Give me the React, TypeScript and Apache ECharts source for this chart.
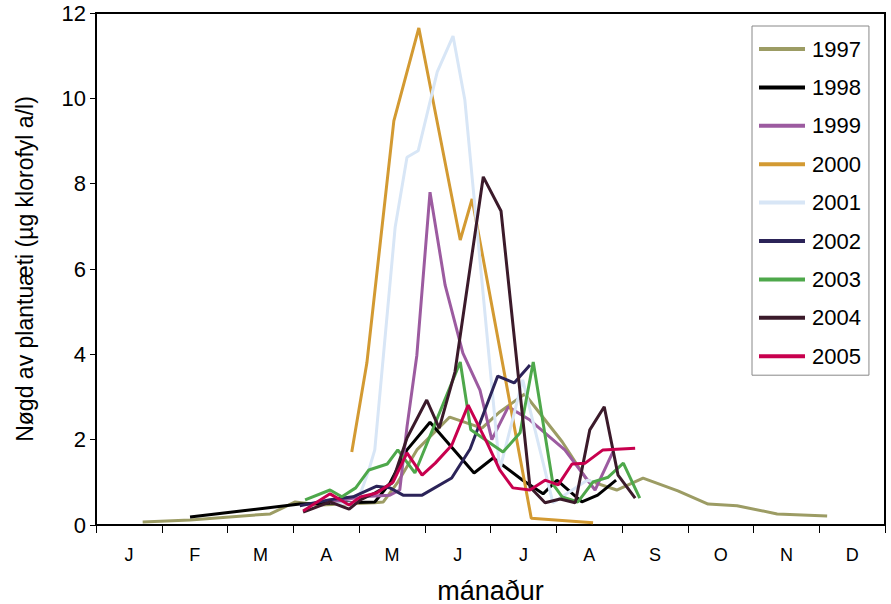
import React, { useEffect, useRef } from "react";
import * as echarts from "echarts";

const months = ["J", "F", "M", "A", "M", "J", "J", "A", "S", "O", "N", "D"];
const yTicks = [0, 2, 4, 6, 8, 10, 12];

// x = month position (0 = 1 Jan, 12 = 31 Dec), y = µg klorofyl a/l
const d1997: [number, number][] = [
  [0.71, 0.07], [1.43, 0.12], [2.65, 0.26], [3.03, 0.54], [3.41, 0.47], [4.24, 0.52], [4.37, 0.54],
  [4.58, 0.98], [4.88, 1.76], [5.38, 2.53], [5.87, 2.27], [6.14, 2.65], [6.52, 3.07], [7.09, 1.95],
  [7.47, 1.05], [7.92, 0.82], [8.32, 1.1], [8.85, 0.8], [9.31, 0.49], [9.75, 0.45], [10.36, 0.26], [11.12, 0.21],
];
const d1998: [number, number][] = [
  [1.43, 0.19], [3.1, 0.49], [4.24, 0.54], [4.47, 0.98], [4.73, 1.76], [5.08, 2.41], [5.75, 1.22],
  [6.04, 1.57], [6.49, 1.05], [6.8, 0.73], [7.01, 1.05], [7.39, 0.54], [7.63, 0.7], [7.91, 1.05],
];
const d1999: [number, number][] = [
  [3.56, 0.52], [4.02, 0.66], [4.47, 0.7], [4.62, 0.82], [4.73, 2.3], [4.88, 3.98], [5.08, 7.8],
  [5.31, 5.62], [5.58, 4.03], [5.84, 3.16], [6.02, 2.0], [6.27, 2.77], [6.6, 2.46], [7.13, 1.76],
  [7.59, 0.82], [7.86, 1.71],
];
const d2000: [number, number][] = [
  [3.89, 1.71], [4.12, 3.8], [4.53, 9.47], [4.91, 11.65], [5.54, 6.68], [5.72, 7.64], [6.62, 0.16], [7.56, 0.05],
];
const d2001: [number, number][] = [
  [3.63, 0.49], [3.97, 0.52], [4.14, 1.24], [4.24, 1.76], [4.55, 6.98], [4.73, 8.62], [4.9, 8.77],
  [5.19, 10.62], [5.43, 11.46], [5.61, 9.96], [6.14, 1.29], [6.49, 3.4], [6.95, 0.52], [7.47, 1.05], [7.59, 1.0],
];
const d2002: [number, number][] = [
  [3.1, 0.45], [3.56, 0.59], [3.91, 0.66], [4.27, 0.91], [4.47, 0.87], [4.67, 0.7], [4.96, 0.7],
  [5.41, 1.1], [5.69, 1.78], [6.11, 3.49], [6.36, 3.33], [6.6, 3.75],
];
const d2003: [number, number][] = [
  [3.18, 0.59], [3.56, 0.82], [3.74, 0.66], [3.95, 0.87], [4.15, 1.29], [4.43, 1.43], [4.59, 1.76],
  [4.85, 1.22], [5.54, 3.82], [5.7, 2.23], [6.19, 1.71], [6.45, 2.16], [6.65, 3.82], [6.95, 0.96],
  [7.09, 0.66], [7.33, 0.54], [7.56, 1.01], [7.79, 1.12], [8.02, 1.45], [8.27, 0.63],
];
const d2004: [number, number][] = [
  [3.15, 0.3], [3.56, 0.54], [3.85, 0.37], [4.02, 0.59], [4.24, 0.75], [4.5, 0.98], [4.73, 2.04],
  [5.03, 2.93], [5.22, 2.27], [5.46, 3.59], [5.89, 8.16], [6.16, 7.36], [6.6, 0.89], [6.83, 0.52],
  [7.06, 0.61], [7.29, 0.52], [7.51, 2.23], [7.73, 2.77], [7.94, 1.17], [8.2, 0.63],
];
const d2005: [number, number][] = [
  [3.15, 0.33], [3.56, 0.73], [3.85, 0.47], [4.02, 0.66], [4.27, 0.75], [4.52, 1.01], [4.73, 1.69],
  [4.96, 1.17], [5.16, 1.45], [5.41, 1.87], [5.66, 2.81], [5.95, 1.92], [6.14, 1.29], [6.34, 0.87],
  [6.6, 0.82], [6.83, 1.05], [7.03, 0.94], [7.24, 1.43], [7.44, 1.45], [7.71, 1.76], [8.2, 1.8],
];

const years = ["1997", "1998", "1999", "2000", "2001", "2002", "2003", "2004", "2005"];
const seriesData = [d1997, d1998, d1999, d2000, d2001, d2002, d2003, d2004, d2005];
const colors = ["#9c9c64", "#000000", "#9c5ba0", "#d39a32", "#d8e6f6", "#2b2358", "#4ea84b", "#3b1a2a", "#c8004e"];

const FONT = "Arial, 'Liberation Sans', sans-serif";

export default function App() {
  const ref = useRef<HTMLDivElement>(null);
  useEffect(() => {
    if (!ref.current) return;
    const chart = echarts.init(ref.current, null, { renderer: "svg" });
    chart.setOption({
      animation: false,
      backgroundColor: "#ffffff",
      grid: {
        left: 96,
        right: 6,
        top: 13,
        bottom: 79,
        outerBoundsMode: "none",
        containLabel: false,
        show: true,
        borderColor: "#000",
        borderWidth: 2,
        backgroundColor: "transparent",
      },
      legend: {
        orient: "vertical",
        left: 752,
        top: 26,
        data: years,
        icon: "rect",
        itemWidth: 46,
        itemHeight: 4,
        itemGap: 16.4,
        padding: [12, 8, 8, 7],
        borderColor: "#888",
        borderWidth: 1,
        backgroundColor: "#fff",
        textStyle: { fontFamily: FONT, fontSize: 22, color: "#000", lineHeight: 22, padding: [0, 0, 0, 2] },
      },
      xAxis: [
        {
          type: "value",
          min: 0,
          max: 12,
          show: false,
        },
        {
          type: "category",
          data: months,
          boundaryGap: true,
          position: "bottom",
          axisLine: { show: true, lineStyle: { color: "#000", width: 2 } },
          axisTick: { show: true, inside: false, length: 8, lineStyle: { color: "#000", width: 1 } },
          axisLabel: { fontFamily: FONT, fontSize: 18, color: "#000", margin: 21 },
          name: "mánaður",
          nameLocation: "middle",
          nameGap: 52,
          nameTextStyle: { fontFamily: FONT, fontSize: 27, color: "#000" },
        },
      ],
      yAxis: {
        type: "value",
        min: 0,
        max: 12,
        interval: 2,
        axisLine: { show: true, lineStyle: { color: "#000", width: 2 } },
        axisTick: { show: true, length: 6, lineStyle: { color: "#000", width: 1 } },
        axisLabel: { fontFamily: FONT, fontSize: 22, color: "#000", margin: 10, formatter: (v: number) => (yTicks.includes(v) ? String(v) : "") },
        splitLine: { show: false },
        name: "Nøgd av plantuæti (µg klorofyl a/l)",
        nameLocation: "middle",
        nameGap: 60,
        nameRotate: 90,
        nameTextStyle: { fontFamily: FONT, fontSize: 23, color: "#000" },
      },
      series: years.map((y, i) => ({
        name: y,
        type: "line",
        xAxisIndex: 0,
        data: seriesData[i],
        symbol: "none",
        color: colors[i],
        lineStyle: { color: colors[i], width: 3 },
        itemStyle: { color: colors[i] },
      })),
    });
    return () => chart.dispose();
  }, []);
  return <div ref={ref} style={{ width: 891, height: 604, position: "absolute", left: 0, top: 0 }} />;
}
